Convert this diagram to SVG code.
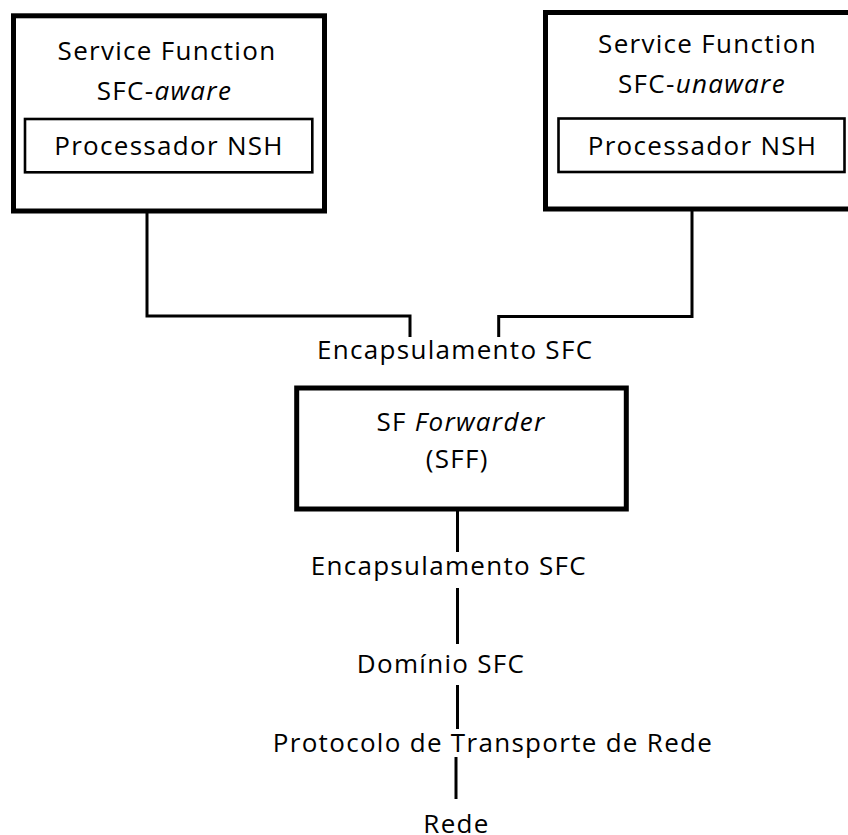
<svg xmlns="http://www.w3.org/2000/svg" width="848" height="835" viewBox="0 0 848 835">
  <style>
    .box { fill: #fff; stroke: #000; stroke-width: 5; }
    .inner { fill: #fff; stroke: #000; stroke-width: 2.6; }
    .wire { fill: none; stroke: #000; stroke-width: 3; }
    text { font-family: "Open Sans", "Noto Sans", "DejaVu Sans", sans-serif; font-size: 26px; letter-spacing: 1.3px; fill: #000; text-anchor: middle; }
    .it { font-style: italic; }
  </style>
  <rect width="848" height="835" fill="#fff"/>

  <g id="connectors">
    <path class="wire" d="M147 213 V316 H410 V337"/>
    <path class="wire" d="M692 210 V316.5 H498.7 V337"/>
    <path class="wire" d="M457.5 511 V552"/>
    <path class="wire" d="M457.5 588 V644"/>
    <path class="wire" d="M457.5 685 V729"/>
    <path class="wire" d="M456 757 V799"/>
  </g>

  <g id="sf-aware">
    <rect class="box" x="13.5" y="15.8" width="311" height="195.2"/>
    <text x="167" y="60">Service Function</text>
    <text x="164.5" y="100">SFC-<tspan class="it">aware</tspan></text>
    <g id="nsh-aware">
      <rect class="inner" x="25" y="119" width="287.3" height="53.3"/>
      <text x="169" y="155">Processador NSH</text>
    </g>
  </g>

  <g id="sf-unaware">
    <rect class="box" x="545.5" y="12.5" width="320" height="196.5"/>
    <text x="707.5" y="53">Service Function</text>
    <text x="702" y="93">SFC-<tspan class="it">unaware</tspan></text>
    <g id="nsh-unaware">
      <rect class="inner" x="558.5" y="118.5" width="286" height="53.5"/>
      <text x="702.5" y="155">Processador NSH</text>
    </g>
  </g>

  <g id="label-encap-top">
    <text x="455.2" y="359">Encapsulamento SFC</text>
  </g>

  <g id="sff">
    <rect class="box" x="296.7" y="388" width="329.6" height="121"/>
    <text x="461" y="431">SF <tspan class="it">Forwarder</tspan></text>
    <text x="457.2" y="468">(SFF)</text>
  </g>

  <g id="label-encap-bottom">
    <text x="448.8" y="575">Encapsulamento SFC</text>
  </g>
  <g id="label-domain">
    <text x="441" y="673">Domínio SFC</text>
  </g>
  <g id="label-transport">
    <text x="493" y="752">Protocolo de Transporte de Rede</text>
  </g>
  <g id="label-network">
    <text x="456.5" y="833">Rede</text>
  </g>
</svg>
